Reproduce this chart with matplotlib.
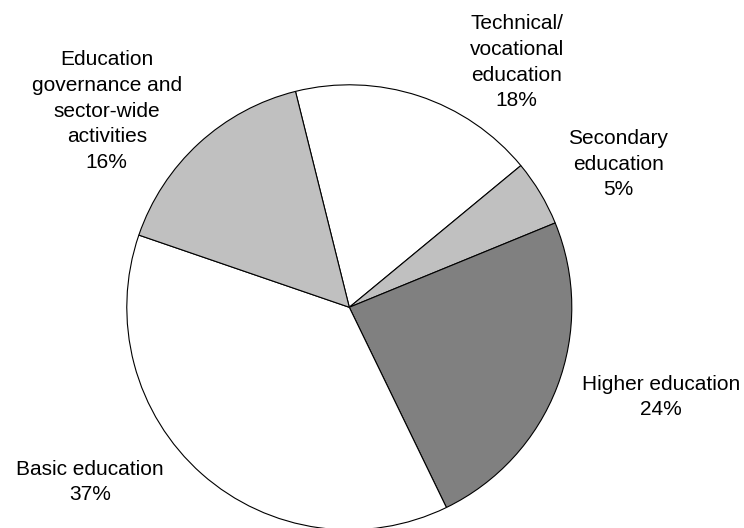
import matplotlib
matplotlib.use("Agg")
import matplotlib.pyplot as plt

# --- data ---
sectors = ["Technical/\nvocational\neducation", "Secondary\neducation",
           "Higher education", "Basic education",
           "Education\ngovernance and\nsector-wide\nactivities"]
shares = [17.9, 4.8, 24.0, 37.45, 15.85]
colors = ["white", "#c0c0c0", "#808080", "white", "#c0c0c0"]

# label centres, in pie-radius units
label_xy = [(0.752, 1.102), (1.208, 0.644), (1.401, -0.403),
            (-1.165, -0.785), (-1.090, 0.882)]

plt.rcParams["font.family"] = ["Liberation Sans", "DejaVu Sans"]

fig = plt.figure(figsize=(7.44, 5.28), dpi=100)
ax = fig.add_axes([0, 0, 1, 1])

ax.pie(shares, colors=colors, startangle=104, counterclock=False,
       wedgeprops=dict(edgecolor="black", linewidth=0.8))

for name, val, (x, y) in zip(sectors, shares, label_xy):
    ax.text(x, y, f"{name}\n{round(val)}%", ha="center", va="center",
            multialignment="center", fontsize=15, linespacing=1.46)

# centre at (349, 307) px, radius ~222 px
r = 222.5
ax.set_xlim(-349.3 / r, (744 - 349.3) / r)
ax.set_ylim(-(528 - 307.3) / r, 307.3 / r)
ax.set_aspect("auto")
ax.axis("off")

fig.savefig("out.png", dpi=100)
